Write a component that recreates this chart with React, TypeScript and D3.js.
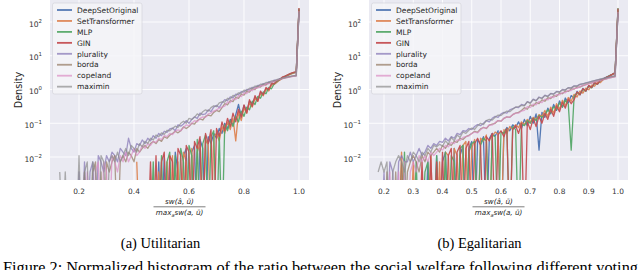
import React from 'react';
import * as d3 from 'd3';

const SERIES = ['DeepSetOriginal', 'SetTransformer', 'MLP', 'GIN', 'plurality', 'borda', 'copeland', 'maximin'];
const COLORS = ['#4C72B0', '#DD8452', '#55A868', '#C44E52', '#8172B3', '#937860', '#DA8BC3', '#8C8C8C'];
const OPAC = [0.95, 0.95, 0.95, 0.95, 0.7, 0.7, 0.7, 0.7];

const BIN = 0.01;
const Y_TICKS = [0.01, 0.1, 1, 10, 100];
const Y_EXP = ['−2', '−1', '0', '1', '2'];
const L_X_TICKS = [0.2, 0.4, 0.6, 0.8, 1.0];
const R_X_TICKS = [0.2, 0.3, 0.4, 0.5, 0.6, 0.7, 0.8, 0.9, 1.0];

// ---------- Utilitarian (left) ----------
const L_VOTE_START = 0.13;
const L_MODEL_START = 0.41;

const L_plurality = [0, 0, 0, 0, 0, 0, 0, 0.0036, 0, 0.0072,
  0, 0.0036, 0.0072, 0, 0.011, 0.0072, 0.0036, 0.011, 0.0072, 0.014,
  0.011, 0.0072, 0.018, 0.014, 0.011, 0.036, 0.018, 0.014, 0.025, 0.022,
  0.032, 0.025, 0.036, 0.03, 0.043, 0.036, 0.05, 0.043, 0.058, 0.054,
  0.068, 0.072, 0.06, 0.09, 0.082, 0.095, 0.12, 0.1, 0.13, 0.155,
  0.14, 0.2, 0.18, 0.19, 0.25, 0.22, 0.3, 0.34, 0.29, 0.4,
  0.5, 0.47, 0.6, 0.57, 0.73, 0.7, 0.87, 0.84, 1.0, 0.98,
  1.16, 1.12, 1.32, 1.3, 1.5, 1.45, 1.7, 1.66, 1.9, 1.88,
  2.1, 2.15, 2.3, 2.35, 2.45, 2.55, 2.6, 180];
const L_maximin = [0.0036, 0, 0.0036, 0, 0, 0, 0, 0.011, 0, 0.0036,
  0.0072, 0, 0.0072, 0.0036, 0, 0.011, 0.0072, 0, 0.0072, 0.011,
  0.0072, 0.014, 0.0072, 0.011, 0.018, 0.011, 0.022, 0.018, 0.014, 0.025,
  0.02, 0.029, 0.025, 0.036, 0.032, 0.045, 0.04, 0.052, 0.047, 0.062,
  0.06, 0.07, 0.082, 0.075, 0.1, 0.115, 0.1, 0.14, 0.13, 0.15,
  0.19, 0.17, 0.22, 0.25, 0.23, 0.29, 0.33, 0.31, 0.4, 0.43,
  0.42, 0.55, 0.52, 0.67, 0.64, 0.8, 0.78, 0.95, 0.93, 1.1,
  1.08, 1.26, 1.25, 1.44, 1.42, 1.62, 1.6, 1.8, 1.8, 1.98,
  2.06, 2.16, 2.26, 2.36, 2.44, 2.52, 2.6, 200];
const L_borda = [0, 0, 0, 0, 0, 0, 0, 0, 0, 0.0036,
  0, 0, 0.0036, 0.0072, 0, 0.0036, 0, 0.0072, 0.0036, 0.0072,
  0.011, 0, 0.0072, 0.011, 0.0072, 0.014, 0.011, 0.0072, 0.018, 0.014,
  0.018, 0.022, 0.018, 0.025, 0.029, 0.025, 0.033, 0.029, 0.04, 0.036,
  0.044, 0.05, 0.058, 0.052, 0.06, 0.078, 0.07, 0.08, 0.1, 0.095,
  0.12, 0.135, 0.125, 0.16, 0.175, 0.165, 0.21, 0.24, 0.22, 0.29,
  0.38, 0.35, 0.47, 0.44, 0.59, 0.55, 0.73, 0.68, 0.88, 0.84,
  1.04, 1.0, 1.22, 1.18, 1.4, 1.36, 1.6, 1.56, 1.8, 1.82,
  2.0, 2.1, 2.2, 2.3, 2.4, 2.48, 2.55, 220];
const L_copeland = [0, 0, 0, 0, 0, 0, 0, 0, 0, 0,
  0.0036, 0, 0, 0.0036, 0.0072, 0, 0.0072, 0.0036, 0, 0.011,
  0.0072, 0.0036, 0.011, 0.0072, 0.014, 0.0072, 0.011, 0.018, 0.011, 0.014,
  0.022, 0.018, 0.025, 0.022, 0.029, 0.027, 0.036, 0.033, 0.043, 0.04,
  0.05, 0.046, 0.058, 0.064, 0.06, 0.074, 0.09, 0.085, 0.098, 0.12,
  0.11, 0.14, 0.155, 0.15, 0.19, 0.2, 0.23, 0.25, 0.28, 0.3,
  0.32, 0.43, 0.41, 0.53, 0.5, 0.66, 0.62, 0.8, 0.76, 0.96,
  0.92, 1.12, 1.1, 1.3, 1.28, 1.5, 1.48, 1.7, 1.7, 1.92,
  2.0, 2.1, 2.2, 2.3, 2.38, 2.46, 2.54, 210];

const L_deepset = [0, 0, 0, 0, 0, 0, 0, 0, 0.0072, 0,
  0.011, 0, 0.0072, 0, 0.014, 0.0036, 0, 0.011, 0.018, 0,
  0.014, 0.022, 0, 0.033, 0.018, 0, 0.04, 0.025, 0.05, 0.036,
  0.07, 0.05, 0.1, 0.07, 0.13, 0.09, 0.18, 0.36, 0.16, 0.34,
  0.22, 0.45, 0.38, 0.58, 0.5, 0.8, 0.7, 1.05, 0.95, 1.4,
  1.45, 1.7, 1.95, 2.2, 2.45, 2.65, 2.9, 3.1, 3.2, 240];
const L_settrans = [0.0072, 0, 0, 0, 0, 0, 0, 0, 0.0036, 0,
  0, 0.0072, 0, 0.011, 0, 0.0072, 0, 0.014, 0.0072, 0,
  0.018, 0, 0.014, 0.025, 0, 0.033, 0.022, 0, 0.04, 0.05,
  0.03, 0.08, 0.05, 0.11, 0.065, 0.14, 0.03, 0.21, 0.12, 0.28,
  0.2, 0.4, 0.3, 0.55, 0.45, 0.75, 0.65, 1.0, 0.9, 1.35,
  1.42, 1.65, 1.9, 2.15, 2.4, 2.6, 2.85, 3.05, 3.2, 230];
const L_mlp = [0, 0, 0, 0, 0, 0, 0.0072, 0, 0, 0.011,
  0, 0.0072, 0.014, 0, 0.011, 0, 0.018, 0.0072, 0, 0.022,
  0.011, 0, 0.033, 0, 0.025, 0.045, 0, 0.04, 0.06, 0,
  0.05, 0, 0.09, 0.06, 0.12, 0.08, 0.16, 0.11, 0.23, 0.16,
  0.3, 0.25, 0.45, 0.36, 0.62, 0.55, 0.85, 0.75, 1.15, 1.05,
  1.48, 1.75, 2.0, 2.25, 2.5, 2.7, 2.95, 3.15, 3.3, 250];
const L_gin = [0, 0, 0, 0, 0, 0.0072, 0, 0.011, 0, 0.0072,
  0.014, 0, 0.011, 0.0072, 0, 0.018, 0.011, 0, 0.022, 0.014,
  0, 0.029, 0.018, 0.04, 0, 0.05, 0.025, 0.065, 0, 0.07,
  0.04, 0.11, 0.06, 0.14, 0.08, 0.2, 0.11, 0.26, 0.15, 0.35,
  0.2, 0.5, 0.32, 0.66, 0.45, 0.9, 0.7, 1.15, 1.0, 1.5,
  1.5, 1.85, 2.0, 2.35, 2.5, 2.75, 3.0, 3.2, 3.4, 260];

// ---------- Egalitarian (right) ----------
const R_VOTE_START = 0.18;
const R_MODEL_START = 0.25;

const R_plurality = [0, 0, 0.0036, 0, 0.0072, 0.0036, 0, 0.0072, 0.011, 0.0072,
  0.0072, 0.014, 0.0072, 0.011, 0.018, 0.011, 0.014, 0.022, 0.018, 0.025,
  0.022, 0.029, 0.027, 0.036, 0.03, 0.04, 0.036, 0.05, 0.046, 0.06,
  0.058, 0.07, 0.065, 0.08, 0.092, 0.085, 0.1, 0.12, 0.11, 0.14,
  0.16, 0.15, 0.19, 0.21, 0.2, 0.25, 0.27, 0.3, 0.29, 0.36,
  0.34, 0.44, 0.4, 0.52, 0.47, 0.6, 0.55, 0.68, 0.63, 0.77,
  0.74, 0.88, 0.85, 1.0, 0.98, 1.13, 1.12, 1.28, 1.28, 1.43,
  1.48, 1.57, 1.66, 1.75, 1.84, 1.94, 2.04, 2.14, 2.24, 2.34,
  2.44, 2.52, 170];
const R_maximin = [0.0036, 0.0072, 0.0036, 0.0072, 0, 0.0036, 0.0072, 0.011, 0.0072, 0.0036,
  0.011, 0.0072, 0.014, 0.011, 0.0072, 0.014, 0.011, 0.018, 0.014, 0.022,
  0.02, 0.024, 0.021, 0.03, 0.024, 0.038, 0.03, 0.045, 0.038, 0.055,
  0.05, 0.062, 0.072, 0.066, 0.085, 0.1, 0.092, 0.12, 0.13, 0.125,
  0.15, 0.175, 0.17, 0.2, 0.23, 0.22, 0.26, 0.3, 0.31, 0.34,
  0.33, 0.43, 0.39, 0.5, 0.46, 0.58, 0.54, 0.66, 0.62, 0.75,
  0.72, 0.86, 0.83, 0.98, 0.96, 1.12, 1.1, 1.26, 1.25, 1.42,
  1.46, 1.55, 1.64, 1.73, 1.82, 1.92, 2.02, 2.12, 2.22, 2.32,
  2.42, 2.5, 190];
const R_borda = [0, 0, 0, 0.0036, 0, 0, 0.0036, 0, 0.0072, 0,
  0.0036, 0.0072, 0.011, 0.0072, 0.0036, 0.011, 0.0072, 0.014, 0.011, 0.014,
  0.018, 0.014, 0.022, 0.018, 0.025, 0.022, 0.029, 0.027, 0.036, 0.033,
  0.04, 0.044, 0.05, 0.058, 0.054, 0.068, 0.075, 0.07, 0.088, 0.095,
  0.1, 0.12, 0.115, 0.14, 0.155, 0.15, 0.18, 0.2, 0.21, 0.24,
  0.29, 0.26, 0.35, 0.32, 0.41, 0.38, 0.49, 0.45, 0.57, 0.54,
  0.66, 0.63, 0.78, 0.75, 0.9, 0.88, 1.04, 1.02, 1.18, 1.18,
  1.31, 1.4, 1.49, 1.58, 1.68, 1.78, 1.88, 1.98, 2.08, 2.2,
  2.3, 2.4, 210];
const R_copeland = [0, 0, 0, 0, 0.0036, 0, 0, 0.0036, 0, 0.0072,
  0, 0.0036, 0.0072, 0.0036, 0.011, 0.0072, 0.011, 0.0072, 0.014, 0.011,
  0.014, 0.018, 0.016, 0.022, 0.02, 0.027, 0.025, 0.032, 0.031, 0.038,
  0.04, 0.042, 0.05, 0.055, 0.052, 0.064, 0.075, 0.072, 0.09, 0.088,
  0.105, 0.12, 0.115, 0.14, 0.155, 0.15, 0.18, 0.2, 0.2, 0.23,
  0.24, 0.31, 0.29, 0.37, 0.35, 0.44, 0.41, 0.52, 0.49, 0.6,
  0.58, 0.71, 0.69, 0.82, 0.8, 0.95, 0.93, 1.09, 1.08, 1.25,
  1.3, 1.39, 1.48, 1.57, 1.67, 1.77, 1.87, 1.97, 2.07, 2.18,
  2.28, 2.38, 200];

const R_deepset = [0, 0, 0, 0, 0, 0, 0, 0, 0, 0,
  0.0072, 0, 0, 0.011, 0, 0.0072, 0.014, 0, 0, 0.018,
  0, 0.011, 0.022, 0, 0.018, 0.029, 0, 0.033, 0.025, 0.04,
  0, 0.035, 0.05, 0.042, 0.06, 0, 0.055, 0.075, 0.06, 0.09,
  0.075, 0.11, 0.07, 0.13, 0.085, 0.16, 0.1, 0.19, 0.016, 0.21,
  0.15, 0.28, 0.19, 0.36, 0.24, 0.46, 0.3, 0.56, 0.4, 0.66,
  0.55, 0.88, 0.7, 1.08, 0.9, 1.3, 1.15, 1.55, 1.45, 1.9,
  2.05, 2.3, 2.55, 2.8, 3.1, 240];
const R_settrans = [0, 0.014, 0, 0, 0, 0.0072, 0, 0, 0.0036, 0,
  0, 0.011, 0, 0, 0.0072, 0, 0.014, 0.011, 0, 0.018,
  0.011, 0, 0.022, 0.029, 0, 0.018, 0.033, 0, 0.036, 0.03,
  0.045, 0, 0.04, 0.055, 0.048, 0, 0.065, 0.05, 0.08, 0.065,
  0.09, 0.075, 0.11, 0.09, 0.13, 0.11, 0.15, 0.13, 0.18, 0.16,
  0.24, 0.16, 0.3, 0.2, 0.38, 0.26, 0.48, 0.33, 0.58, 0.45,
  0.72, 0.6, 0.9, 0.78, 1.1, 0.98, 1.35, 1.25, 1.65, 1.6,
  2.0, 2.25, 2.5, 2.75, 3.0, 230];
const R_mlp = [0, 0, 0.014, 0, 0, 0, 0.0072, 0, 0, 0.0036,
  0.0072, 0, 0, 0.011, 0, 0, 0.014, 0, 0.011, 0.0072,
  0, 0.018, 0.022, 0, 0.014, 0.025, 0.029, 0, 0.022, 0.036,
  0.03, 0, 0.045, 0.04, 0, 0.055, 0.05, 0.07, 0, 0.08,
  0.065, 0, 0.095, 0.085, 0.12, 0.1, 0.14, 0.12, 0.17, 0.15,
  0.18, 0.25, 0.2, 0.31, 0.25, 0.4, 0.3, 0.48, 0.37, 0.016,
  0.62, 0.8, 0.72, 1.0, 0.9, 1.25, 1.12, 1.55, 1.45, 1.85,
  2.05, 2.3, 2.55, 2.8, 3.1, 260];
const R_gin = [0, 0, 0, 0, 0, 0, 0, 0, 0.0072, 0,
  0, 0.011, 0, 0.0072, 0, 0.014, 0, 0.011, 0.018, 0,
  0.014, 0.022, 0, 0.018, 0.029, 0, 0.025, 0.036, 0.022, 0,
  0.04, 0.03, 0.05, 0, 0.045, 0.06, 0.04, 0.07, 0, 0.065,
  0.085, 0.05, 0.1, 0, 0.11, 0.065, 0.14, 0.08, 0.16, 0.1,
  0.2, 0.13, 0.26, 0.16, 0.33, 0.22, 0.42, 0.28, 0.52, 0.38,
  0.5, 0.85, 0.7, 1.05, 0.9, 1.3, 1.15, 1.6, 1.45, 1.9,
  2.0, 2.3, 2.5, 2.8, 3.1, 250];

const PLOT_TOP = 0;
const PLOT_BOTTOM = 180;
const FONT = 'DejaVu Sans, sans-serif';

const yScale = d3.scaleLog().domain([Math.pow(10, -2.681), Math.pow(10, 2.652)]).range([PLOT_BOTTOM, PLOT_TOP]);

type PanelProps = {
  id: string;
  x0: number;
  x1: number;
  xDomain: [number, number];
  xTicks: number[];
  data: number[][];
  starts: number[];
  caption: string;
};

function Panel({ id, x0, x1, xDomain, xTicks, data, starts, caption }: PanelProps) {
  const x = d3.scaleLinear().domain(xDomain).range([x0, x1]);
  const line = d3
    .line<[number, number]>()
    .x((d) => x(d[0]))
    .y((d) => (d[1] > 0 ? yScale(d[1]) : PLOT_BOTTOM + 60));
  const cx = (x0 + x1) / 2;
  const fmt = d3.format('.1f');
  return (
    <g>
      <defs>
        <clipPath id={`clip-${id}`}>
          <rect x={x0} y={PLOT_TOP} width={x1 - x0} height={PLOT_BOTTOM - PLOT_TOP} />
        </clipPath>
      </defs>
      <rect x={x0} y={PLOT_TOP} width={x1 - x0} height={PLOT_BOTTOM - PLOT_TOP} fill="#EAEAF2" />
      {Y_TICKS.map((t) => (
        <line key={'gy' + t} x1={x0} x2={x1} y1={yScale(t)} y2={yScale(t)} stroke="#fff" strokeWidth={0.9} />
      ))}
      {xTicks.map((t) => (
        <line key={'gx' + t} x1={x(t)} x2={x(t)} y1={PLOT_TOP} y2={PLOT_BOTTOM} stroke="#fff" strokeWidth={0.9} />
      ))}
      <g clipPath={`url(#clip-${id})`}>
        {data.map((vals, si) => {
          const pts: [number, number][] = vals.map((v, j) => [starts[si] + j * BIN, v]);
          return (
            <path
              key={SERIES[si]}
              d={line(pts) || ''}
              fill="none"
              stroke={COLORS[si]}
              strokeOpacity={OPAC[si]}
              strokeWidth={1.3}
              strokeLinejoin="round"
            />
          );
        })}
      </g>
      {Y_TICKS.map((t, i) => (
        <text key={'ty' + t} x={x0 - 8} y={yScale(t) + 4.5} textAnchor="end" fontFamily={FONT} fontSize={7.6} fill="#333">
          <tspan>10</tspan>
          <tspan dy={-4} fontSize={5.4}>{Y_EXP[i]}</tspan>
        </text>
      ))}
      {xTicks.map((t) => (
        <text key={'tx' + t} x={x(t)} y={193.5} textAnchor="middle" fontFamily={FONT} fontSize={7.4} fill="#333">
          {fmt(t)}
        </text>
      ))}
      <text
        transform={`translate(${x0 - 28.5},${(PLOT_TOP + PLOT_BOTTOM) / 2}) rotate(-90)`}
        textAnchor="middle"
        fontFamily={FONT}
        fontSize={9.6}
        fill="#262626"
      >
        Density
      </text>
      <text x={cx} y={204} textAnchor="middle" fontFamily={FONT} fontStyle="italic" fontSize={7.2} fill="#262626">
        sw(â, ū)
      </text>
      <line x1={cx - 26} x2={cx + 26} y1={206.8} y2={206.8} stroke="#262626" strokeWidth={0.6} />
      <text x={cx} y={215} textAnchor="middle" fontFamily={FONT} fontStyle="italic" fontSize={7.2} fill="#262626">
        <tspan>max</tspan>
        <tspan dy={1.5} fontSize={5}>a</tspan>
        <tspan dy={-1.5}>sw(a, ū)</tspan>
      </text>
      <g>
        <rect x={x0 + 2.5} y={3} width={89.5} height={91} rx={2} fill="#F4F4F8" fillOpacity={0.85} stroke="#D0D0D6" strokeWidth={0.6} />
        {SERIES.map((s, i) => (
          <g key={'lg' + s}>
            <line x1={x0 + 7} x2={x0 + 22} y1={10 + i * 10.95} y2={10 + i * 10.95} stroke={COLORS[i]} strokeOpacity={OPAC[i]} strokeWidth={1.8} />
            <text x={x0 + 27} y={10 + i * 10.95 + 2.7} fontFamily={FONT} fontSize={7.5} fill="#262626">
              {s}
            </text>
          </g>
        ))}
      </g>
      <text x={cx - 19} y={248} textAnchor="middle" fontFamily="Liberation Serif, serif" fontSize={14.5} fill="#000">
        {caption}
      </text>
    </g>
  );
}

export default function App() {
  return (
    <svg width={640} height={270} viewBox="0 0 640 270" style={{ position: 'absolute', left: 0, top: 0, background: '#fff' }}>
      <rect x={0} y={0} width={640} height={270} fill="#fff" />
      <Panel
        id="left"
        x0={50}
        x1={309}
        xDomain={[0.0945, 1.0364]}
        xTicks={L_X_TICKS}
        data={[L_deepset, L_settrans, L_mlp, L_gin, L_plurality, L_borda, L_copeland, L_maximin]}
        starts={[L_MODEL_START, L_MODEL_START, L_MODEL_START, L_MODEL_START, L_VOTE_START, L_VOTE_START, L_VOTE_START, L_VOTE_START]}
        caption="(a) Utilitarian"
      />
      <Panel
        id="right"
        x0={369}
        x1={628}
        xDomain={[0.1487, 1.0342]}
        xTicks={R_X_TICKS}
        data={[R_deepset, R_settrans, R_mlp, R_gin, R_plurality, R_borda, R_copeland, R_maximin]}
        starts={[R_MODEL_START, R_MODEL_START, R_MODEL_START, R_MODEL_START, R_VOTE_START, R_VOTE_START, R_VOTE_START, R_VOTE_START]}
        caption="(b) Egalitarian"
      />
      <text x={3} y={273} fontFamily="Liberation Serif, serif" fontSize={16.3} fill="#000">
        Figure 2: Normalized histogram of the ratio between the social welfare following different voting
      </text>
    </svg>
  );
}
